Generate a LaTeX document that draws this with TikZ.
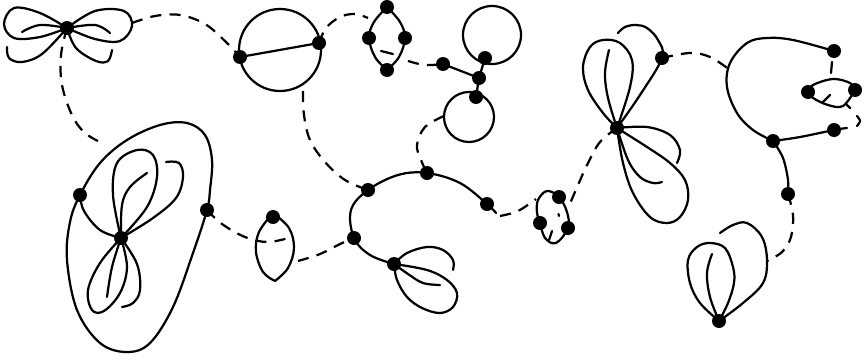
\documentclass[tikz,border=0pt]{standalone}
\tikzset{
  ln/.style={line width=1.9pt, line cap=round, line join=round},
  dsh/.style={line width=1.9pt, dash pattern=on 9.5pt off 7pt},
  dot/.style={circle, fill=black, inner sep=0pt, minimum size=0.42cm},
}
\begin{document}
\begin{tikzpicture}[x=0.03cm, y=-0.03cm]
\useasboundingbox (0,0) rectangle (865,361);
% ---------- dots (named) ----------
\coordinate (A) at (67,28);
\coordinate (P1) at (80,195);
\coordinate (P2) at (207,210);
\coordinate (C) at (121,238);
\coordinate (L) at (273,217);
\coordinate (B1) at (240,57);
\coordinate (B2) at (319,43);
\coordinate (Q1) at (387,7);
\coordinate (Q2) at (369,38);
\coordinate (Q3) at (405,38);
\coordinate (Q4) at (387,70);
\coordinate (E1) at (443,64);
\coordinate (E2) at (479,78);
\coordinate (E3) at (485,58);
\coordinate (E4) at (476,97);
\coordinate (D1) at (368,190);
\coordinate (D2) at (427,173);
\coordinate (D3) at (487,204);
\coordinate (D4) at (354,238);
\coordinate (D5) at (394,264);
\coordinate (F1) at (559,197);
\coordinate (F2) at (540,223);
\coordinate (F3) at (568,228);
\coordinate (G) at (617,128);
\coordinate (G2) at (662,58);
\coordinate (H1) at (834,51);
\coordinate (H2) at (773,141);
\coordinate (H3) at (834,130);
\coordinate (H4) at (788,194);
\coordinate (H5) at (808,92);
\coordinate (H6) at (855,90);
\coordinate (K) at (719,321);

% ---------- butterfly ----------
\draw[ln] plot[smooth,tension=.6] coordinates {(A) (40,13) (14,8) (4,24) (14,38) (40,37) (A)};
\draw[ln] plot[smooth,tension=.6] coordinates {(A) (95,11) (124,11) (132,26) (120,41) (95,39) (A)};
\draw[ln] plot[smooth,tension=.6] coordinates {(A) (40,25) (22,32)};
\draw[ln] plot[smooth,tension=.6] coordinates {(A) (95,25) (110,33)};
\draw[ln] plot[smooth,tension=.6] coordinates {(7,47) (9,58) (22,62) (42,54) (A)};
\draw[ln] plot[smooth,tension=.6] coordinates {(A) (76,48) (96,61) (108,61) (112,50)};
\draw[dsh] plot[smooth,tension=.6] coordinates {(132,23) (155,16) (180,15) (205,24) (226,42) (B1)};
\draw[dsh] plot[smooth,tension=.6] coordinates {(A) (61,55) (62,85) (72,115) (85,133) (104,144)};

% ---------- big loop ----------
\draw[ln] plot[smooth cycle,tension=.6] coordinates {(P1) (100,163) (127,140) (160,125) (187,123) (205,135) (212,160) (210,190) (P2) (193,253) (173,307) (150,343) (127,352) (100,343) (77,310) (67,260) (70,222)};
\draw[ln] plot[smooth,tension=.6] coordinates {(C) (100,230) (84,211) (P1)};
\draw[ln] plot[smooth,tension=.6] coordinates {(C) (113,195) (117,163) (137,150) (153,155) (157,177) (147,207) (C)};
\draw[ln] plot[smooth,tension=.6] coordinates {(C) (122,205) (130,187) (147,173)};
\draw[ln] plot[smooth,tension=.6] coordinates {(C) (153,218) (176,198) (183,177) (179,163) (166,162)};
\draw[ln] plot[smooth,tension=.6] coordinates {(C) (100,263) (88,290) (92,310) (104,311) (120,293) (127,267) (C)};
\draw[ln] plot[smooth,tension=.6] coordinates {(C) (112,267) (107,297)};
\draw[ln] plot[smooth,tension=.6] coordinates {(C) (137,264) (140,290) (133,303) (122,307)};
\draw[dsh] plot[smooth,tension=.6] coordinates {(P2) (222,224) (245,237) (268,242) (292,237)};

% ---------- small lens ----------
\draw[ln] plot[smooth,tension=.6] coordinates {(273,213) (259,232) (256,252) (263,272) (275,281)};
\draw[ln] plot[smooth,tension=.6] coordinates {(273,213) (289,228) (294,248) (288,268) (275,281)};
\draw[dsh] plot[smooth,tension=.6] coordinates {(298,261) (320,254) (340,244) (D4)};

% ---------- big circle ----------
\draw[ln] (280,50) circle[radius=1.23cm];
\draw[ln] (B1) -- (B2);
\draw[dsh] plot[smooth,tension=.6] coordinates {(303,91) (304,115) (310,140) (325,162) (345,180) (D1)};
\draw[dsh] plot[smooth,tension=.6] coordinates {(B2) (326,28) (340,17) (355,14) (368,18)};

% ---------- four-dot lens ----------
\draw[ln] plot[smooth,tension=.6] coordinates {(Q1) (374,22) (Q2) (375,57) (Q4)};
\draw[ln] plot[smooth,tension=.6] coordinates {(Q1) (400,22) (Q3) (399,57) (Q4)};
\draw[ln] (381,51) -- (393,54);
\draw[dsh] plot[smooth,tension=.6] coordinates {(408,61) (425,65) (E1)};

% ---------- two circles ----------
\draw[ln] (492,35) circle[radius=0.87cm];
\draw[ln] (469,117) circle[radius=0.75cm];
\draw[ln] (E1) -- (E2) -- (E3);
\draw[ln] (E2) -- (E4);
\draw[dsh] plot[smooth,tension=.6] coordinates {(444,116) (425,127) (417,145) (421,160) (D2)};

% ---------- middle arc ----------
\draw[ln] plot[smooth,tension=.6] coordinates {(496,213) (D3) (460,183) (D2) (398,175) (D1) (351,210) (D4) (370,255) (D5)};
\draw[ln] plot[smooth,tension=.6] coordinates {(D5) (397,280) (407,297) (422,308) (440,313) (453,307) (457,293) (447,280) (427,270) (D5)};
\draw[ln] plot[smooth,tension=.6] coordinates {(D5) (407,253) (427,247) (443,250) (453,260) (453,270)};
\draw[ln] plot[smooth,tension=.6] coordinates {(D5) (408,274) (423,283) (440,285)};
\draw[dsh] plot[smooth,tension=.6] coordinates {(500,216) (518,211) (536,199)};

% ---------- small loop ----------
\draw[ln] plot[smooth cycle,tension=.6] coordinates {(F1) (547,191) (538,200) (537,213) (F2) (545,238) (556,243) (F3) (567,212)};
\draw[ln] (558.5,214) -- (559,216);
\draw[ln] (552,231) -- (549,240);

% ---------- upper flower ----------
\draw[ln] plot[smooth,tension=.6] coordinates {(G) (640,95) (G2) (658,40) (647,28) (636,25) (625,27) (618,33)};
\draw[ln] plot[smooth,tension=.6] coordinates {(G) (603,113) (588,90) (583,67) (590,47) (603,40) (620,43) (632,60) (630,87) (G)};
\draw[ln] plot[smooth,tension=.6] coordinates {(G) (608,98) (605,73) (609,50)};
\draw[ln] plot[smooth,tension=.6] coordinates {(G) (647,127) (670,135) (680,150) (677,163)};
\draw[ln] plot[smooth,tension=.6] coordinates {(G) (623,163) (633,193) (650,217) (667,223) (680,217) (688,200) (685,180) (670,163) (647,147) (G)};
\draw[ln] plot[smooth,tension=.6] coordinates {(G) (628,160) (640,177) (653,183) (662,182)};
\draw[dsh] plot[smooth,tension=.6] coordinates {(G) (600,142) (588,163) (578,185) (569,206)};
\draw[dsh] plot[smooth,tension=.6] coordinates {(G2) (690,53) (710,57) (730,70)};

% ---------- right C ----------
\draw[ln] plot[smooth,tension=.6] coordinates {(H1) (793,40) (767,38) (747,43) (730,63) (727,87) (737,113) (753,130) (H2)};
\draw[ln] plot[smooth,tension=.6] coordinates {(H2) (800,137) (H3) (847,128)};
\draw[ln] plot[smooth,tension=.6] coordinates {(H2) (783,158) (788,180) (H4)};
\draw[ln] plot[smooth,tension=.6] coordinates {(H5) (813,85) (833,79) (850,83) (H6)};
\draw[ln] plot[smooth,tension=.6] coordinates {(H5) (813,98) (828,105) (843,106) (H6)};
\draw[ln] (823,102) -- (830,95);
\draw[ln] (832,62) -- (831,73);
\draw[ln] (847,105) -- (850,108);
\draw[ln] plot[smooth,tension=.6] coordinates {(857,116) (860,121) (857,126)};
\draw[dsh] plot[smooth,tension=.6] coordinates {(H4) (793,215) (791,237) (782,252) (767,261)};

% ---------- lower-right flower ----------
\draw[ln] plot[smooth,tension=.6] coordinates {(K) (700,303) (690,283) (688,260) (697,247) (710,243) (725,248) (733,267) (734,283) (728,303) (K)};
\draw[ln] plot[smooth,tension=.6] coordinates {(K) (710,297) (707,273) (712,254)};
\draw[ln] plot[smooth,tension=.6] coordinates {(K) (743,303) (763,283) (767,260) (762,237) (747,223) (733,225) (720,233)};

% ---------- dots on top ----------
\foreach \p in {A,P1,P2,C,L,B1,B2,Q1,Q2,Q3,Q4,E1,E2,E3,E4,D1,D2,D3,D4,D5,F1,F2,F3,G,G2,H1,H2,H3,H4,H5,H6,K}
  \node[dot] (n\p) at (\p) {};
\end{tikzpicture}
\end{document}
